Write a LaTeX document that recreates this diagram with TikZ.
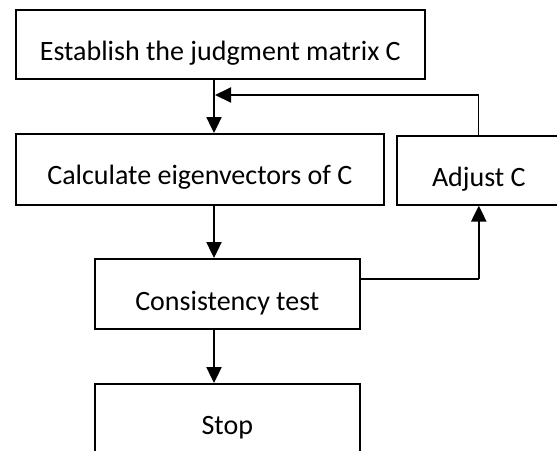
\documentclass[tikz,border=0pt]{standalone}
\usepackage{fontspec}
\setmainfont{Carlito}
\usetikzlibrary{arrows.meta,calc}
\begin{document}
\begin{tikzpicture}[x=1pt,y=1pt,
  box/.style={draw=black,line width=1.6pt,inner sep=0pt,anchor=north west,font=\fontsize{28}{32}\selectfont,align=center},
  tip/.style={-{Triangle[width=15pt,length=16pt]}},
  arr/.style={line width=2.4pt,tip},
  thinline/.style={line width=1.1pt},
  midline/.style={line width=2pt}]
\useasboundingbox (0,0) rectangle (557,-450);
\clip (0,0) rectangle (557,-450);
\node[box,minimum width=409pt,text height=51pt,text depth=18pt] (b1) at (15,-9) {Establish the judgment matrix C};
\node[box,minimum width=368pt,text height=51pt,text depth=20pt] (b2) at (15,-133) {Calculate eigenvectors of C};
\node[box,minimum width=164pt,text height=51pt,text depth=18pt] (adj) at (396,-135) {Adjust C};
\node[box,minimum width=265pt,text height=52pt,text depth=18pt] (b3) at (94,-258) {Consistency test};
\node[box,minimum width=265pt,text height=51pt,text depth=19pt] (b4) at (94,-383) {Stop};
\coordinate (cx) at (214,0);
\coordinate (j1) at (adj.north |- 0,-95);
\coordinate (j2) at (adj.south |- 0,-279);
\draw[arr] (b1.south -| cx) -- (b2.north -| cx);
\draw[arr] (b2.south -| cx) -- (b3.north -| cx);
\draw[arr] (b3.south -| cx) -- (b4.north -| cx);
\draw[thinline] (b3.east |- j2) -- (j2);
\draw[arr] (j2) -- (adj.south);
\draw[thinline] (adj.north) -- (j1);
\draw[midline,tip] (j1) -- ($(j1 -| cx)+(1,0)$);
\end{tikzpicture}
\end{document}
